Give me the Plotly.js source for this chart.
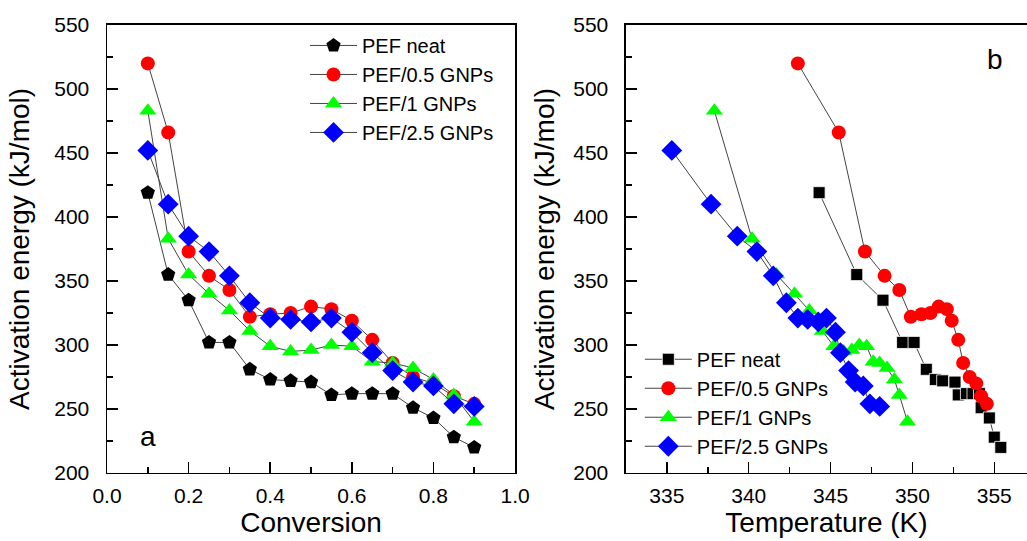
<!DOCTYPE html>
<html>
<head>
<meta charset="utf-8">
<script src="https://cdn.plot.ly/plotly-3.0.1.min.js"></script>
<style>html,body{margin:0;padding:0;background:#fff;}#chart{width:1027px;height:541px;}</style>
</head>
<body>
<div id="chart"></div>
<script>
// Panel a: activation energy vs conversion
var conversion = [0.1,0.15,0.2,0.25,0.3,0.35,0.4,0.45,0.5,0.55,0.6,0.65,0.7,0.75,0.8,0.85,0.9];
var eaNeat = [419,355,335,302,302,281,273,272,271,261,262,262,262,251,243,228,220];
var ea05   = [520,466,373,354,343,322,324,325,330,328,319,304,286,275,270,260,254];
var ea1    = [483,383,355,340,327,311,299,295,296,300,299,287,286,282,273,261,240];
var ea25   = [452,410,385,373,354,333,321,320,318,321,310,294,280,271,268,254,252];
// Panel b: temperatures at each conversion
var tNeat = [344.3,346.6,348.2,349.4,350.1,350.85,351.4,351.85,352.6,352.8,353.3,353.7,354.1,354.2,354.7,355.0,355.4];
var t05   = [343.0,345.5,347.1,348.3,349.2,349.9,350.55,351.1,351.6,352.1,352.4,352.8,353.1,353.5,353.9,354.2,354.55];
var t1    = [337.9,340.2,341.7,342.8,343.7,344.5,345.2,345.8,346.3,346.75,347.2,347.6,348.0,348.45,348.9,349.2,349.7];
var t25   = [335.3,337.7,339.3,340.5,341.5,342.3,343.0,343.6,344.25,344.75,345.3,345.6,346.1,346.5,347.0,347.4,348.0];
var seriesNames = ['PEF neat','PEF/0.5 GNPs','PEF/1 GNPs','PEF/2.5 GNPs'];

var FONT = 'Liberation Sans, Arial, sans-serif';
var lineStyle = {color:'#444', width:1};
var colors = ['#000000','#ff0000','#00ff00','#0000ff'];
var symA = ['pentagon','circle','triangle-up','diamond'];
var sizeA = [15,14,15,16];
var symB = ['square','circle','triangle-up','diamond'];
var sizeB = [12,14,15,16];
var eas = [eaNeat, ea05, ea1, ea25];
var temps = [tNeat, t05, t1, t25];

var traces = [];
for (var i=0;i<4;i++){
  traces.push({x:conversion, y:eas[i], name:seriesNames[i], type:'scatter', mode:'lines+markers',
    xaxis:'x', yaxis:'y', legend:'legend',
    line:lineStyle, marker:{symbol:symA[i], size:sizeA[i], color:colors[i], line:{width:0}}});
}
for (var j=0;j<4;j++){
  traces.push({x:temps[j], y:eas[j], name:seriesNames[j], type:'scatter', mode:'lines+markers',
    xaxis:'x2', yaxis:'y2', legend:'legend2',
    line:lineStyle, marker:{symbol:symB[j], size:sizeB[j], color:colors[j],
      line:{width: j===0?0.8:0, color:'#ffffff'}}});
}

function axisBase(){
  return {showline:true, linecolor:'#000', linewidth:1.5, mirror:true, showgrid:false, zeroline:false,
    ticks:'inside', ticklen:11, tickwidth:1.5, tickcolor:'#000',
    tickfont:{family:FONT, size:21, color:'#000'}};
}
var xa = axisBase(); Object.assign(xa, {domain:[0.1042,0.5015], range:[0,1], dtick:0.2, tick0:0, tickformat:'.1f',
  minor:{dtick:0.1, ticks:'inside', ticklen:6, tickwidth:1.5, tickcolor:'#000'}, anchor:'y',
  ticklabelstandoff:3, title:{text:'Conversion', font:{family:FONT,size:28,color:'#000'}, standoff:4}});
var ya = axisBase(); Object.assign(ya, {domain:[0.1257,0.9538], range:[200,550], dtick:50, tick0:200,
  minor:{dtick:25, ticks:'inside', ticklen:6, tickwidth:1.5, tickcolor:'#000'}, anchor:'x',
  ticklabelstandoff:12, title:{text:'Activation energy (kJ/mol)', font:{family:FONT,size:28,color:'#000'}, standoff:16}});
var xb = axisBase(); Object.assign(xb, {domain:[0.6095,1.0], range:[332.5,357], dtick:5, tick0:335,
  minor:{dtick:2.5, ticks:'inside', ticklen:6, tickwidth:1.5, tickcolor:'#000'}, anchor:'y2',
  ticklabelstandoff:3, title:{text:'Temperature (K)', font:{family:FONT,size:28,color:'#000'}, standoff:4}});
var yb = axisBase(); Object.assign(yb, {domain:[0.1257,0.9538], range:[200,550], dtick:50, tick0:200,
  minor:{dtick:25, ticks:'inside', ticklen:6, tickwidth:1.5, tickcolor:'#000'}, anchor:'x2',
  ticklabelstandoff:12, title:{text:'Activation energy (kJ/mol)', font:{family:FONT,size:28,color:'#000'}, standoff:10}});

var layout = {
  width:1027, height:541, margin:{l:0,r:0,t:0,b:0},
  paper_bgcolor:'#fff', plot_bgcolor:'#fff', showlegend:true,
  xaxis:xa, yaxis:ya, xaxis2:xb, yaxis2:yb,
  legend:{x:0.297, y:0.952, xanchor:'left', yanchor:'top', bgcolor:'rgba(0,0,0,0)', borderwidth:0,
    font:{family:FONT, size:20, color:'#000'}, itemwidth:47, tracegroupgap:0},
  legend2:{x:0.623, y:0.372, xanchor:'left', yanchor:'top', bgcolor:'rgba(0,0,0,0)', borderwidth:0,
    font:{family:FONT, size:20, color:'#000'}, itemwidth:47, tracegroupgap:0},
  annotations:[
    {xref:'paper', yref:'paper', x:148/1027, y:1-436/541, text:'a', showarrow:false, xanchor:'center', yanchor:'middle',
     font:{family:FONT, size:28, color:'#000'}},
    {xref:'paper', yref:'paper', x:995/1027, y:1-60/541, text:'b', showarrow:false, xanchor:'center', yanchor:'middle',
     font:{family:FONT, size:28, color:'#000'}}
  ]
};
Plotly.newPlot('chart', traces, layout, {displayModeBar:false, staticPlot:true});
</script>
</body>
</html>
